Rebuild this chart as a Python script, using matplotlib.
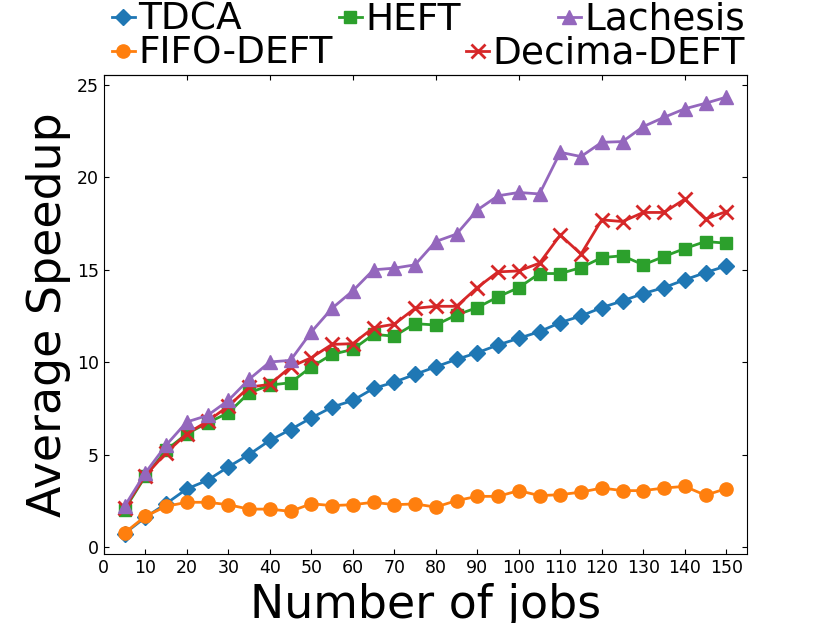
import matplotlib
matplotlib.use("Agg")
import matplotlib.pyplot as plt

# ---------------------------------------------------------------------------
# Data
# ---------------------------------------------------------------------------
jobs = list(range(5, 151, 5))

tdca = [0.75, 1.62, 2.36, 3.16, 3.63, 4.35, 5.02, 5.78, 6.37, 7.00,
        7.58, 7.94, 8.59, 8.93, 9.35, 9.76, 10.16, 10.52, 10.94, 11.30,
        11.66, 12.15, 12.51, 12.96, 13.32, 13.72, 14.04, 14.46, 14.85, 15.21]
fifo_deft = [0.78, 1.68, 2.22, 2.44, 2.44, 2.31, 2.07, 2.07, 1.95, 2.36,
             2.26, 2.31, 2.44, 2.31, 2.35, 2.18, 2.53, 2.76, 2.76, 3.07,
             2.80, 2.85, 2.99, 3.21, 3.07, 3.07, 3.21, 3.30, 2.82, 3.18]
heft = [2.04, 3.84, 5.25, 6.14, 6.73, 7.27, 8.35, 8.77, 8.90, 9.75,
        10.43, 10.70, 11.51, 11.42, 12.09, 12.02, 12.56, 12.96, 13.54, 14.04,
        14.80, 14.80, 15.12, 15.66, 15.76, 15.27, 15.72, 16.15, 16.53, 16.44]
decima_deft = [2.13, 3.88, 5.11, 6.14, 6.82, 7.63, 8.66, 8.81, 9.75, 10.25,
               10.97, 11.01, 11.87, 12.06, 12.92, 13.03, 13.03, 14.04, 14.89, 14.94,
               15.36, 16.88, 15.85, 17.70, 17.61, 18.10, 18.10, 18.82, 17.74, 18.15]
lachesis = [2.22, 4.02, 5.52, 6.78, 7.13, 7.94, 9.08, 10.02, 10.11, 11.64,
            12.92, 13.86, 15.00, 15.09, 15.27, 16.53, 16.93, 18.23, 19.00, 19.18,
            19.10, 21.35, 21.12, 21.89, 21.93, 22.74, 23.24, 23.70, 24.00, 24.33]

x_ticks = list(range(0, 151, 10))

# ---------------------------------------------------------------------------
# Plot
# ---------------------------------------------------------------------------
plt.rcParams["font.family"] = ["DejaVu Sans"]

fig, ax = plt.subplots(figsize=(8.3, 6.23), dpi=100)

lw = 2.0
ms = 8.5
h_tdca, = ax.plot(jobs, tdca, marker="D", color="C0", lw=lw, ms=ms, label="TDCA")
h_fifo, = ax.plot(jobs, fifo_deft, marker="o", color="C1", lw=lw, ms=ms + 1, label="FIFO-DEFT")
h_heft, = ax.plot(jobs, heft, marker="s", color="C2", lw=lw, ms=ms, label="HEFT")
h_dec, = ax.plot(jobs, decima_deft, marker="x", color="C3", lw=lw, ms=ms + 1, mew=2, label="Decima-DEFT")
h_lac, = ax.plot(jobs, lachesis, marker="^", color="C4", lw=lw, ms=ms + 1, label="Lachesis")

ax.set_xlim(0, 155)
ax.set_ylim(-0.38, 25.54)
ax.set_xticks(x_ticks)
ax.tick_params(direction="in", labelsize=12.5, right=True)

# top ticks follow the default locator (every 20)
top = ax.secondary_xaxis("top")
top.tick_params(direction="in", labeltop=False)

ax.set_xlabel("Number of jobs", fontsize=33)
ax.set_ylabel("Average Speedup", fontsize=33)

leg_kw = dict(mode="expand", frameon=False, fontsize=27, borderpad=0,
              borderaxespad=0, handlelength=0.6, handletextpad=0.1,
              loc="center left", bbox_transform=fig.transFigure)
x0 = 112 / 830
w = (745 - 112) / 830
leg1 = ax.legend([h_tdca, h_heft, h_lac], ["TDCA", "HEFT", "Lachesis"], ncol=3,
                 bbox_to_anchor=(x0, 1 - 20 / 623, w, 0), **leg_kw)
ax.add_artist(leg1)
ax.legend([h_fifo, h_dec], ["FIFO-DEFT", "Decima-DEFT"], ncol=2,
          bbox_to_anchor=(x0, 1 - 54 / 623, w, 0), **leg_kw)

fig.savefig("out.png", dpi=100)
